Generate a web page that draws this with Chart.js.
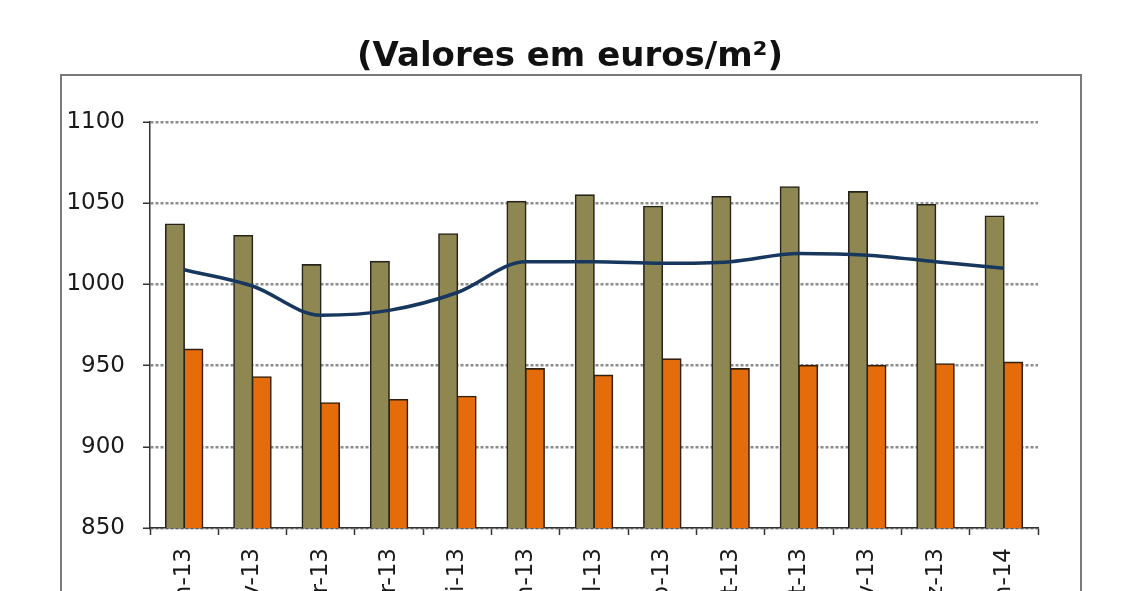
<!DOCTYPE html>
<html>
<head>
<meta charset="utf-8">
<script src="https://cdn.jsdelivr.net/npm/chart.js@4/dist/chart.umd.min.js"></script>
<style>
  html, body { margin: 0; padding: 0; background: #ffffff; overflow: hidden; width: 1128px; height: 591px; }
  #wrap { position: absolute; left: 0; top: 0; width: 1128px; height: 660px; }
</style>
</head>
<body>
<div id="wrap"><canvas id="c" width="1128" height="660"></canvas></div>
<script>
const categories = ["Jan-13","Fev-13","Mar-13","Abr-13","Mai-13","Jun-13","Jul-13","Ago-13","Set-13","Out-13","Nov-13","Dez-13","Jan-14"];
const seriesOlive  = [1037, 1030, 1012, 1014, 1031, 1051, 1055, 1048, 1054, 1060, 1057, 1049, 1042];
const seriesOrange = [960, 943, 927, 929, 931, 948, 944, 954, 948, 950, 950, 951, 952];
const seriesLine   = [1009, 999, 981, 984, 995, 1014, 1014, 1013, 1014, 1019, 1018, 1014, 1010];
const yTicks = [850, 900, 950, 1000, 1050, 1100];
const titleText = "(Valores em euros/m\u00B2)";

const frame = {
  id: 'frame',
  beforeDraw(chart) {
    const ctx = chart.ctx;
    ctx.save();
    ctx.fillStyle = '#ffffff';
    ctx.fillRect(0, 0, chart.width, chart.height);
    ctx.strokeStyle = '#7a7a7a';
    ctx.lineWidth = 2;
    ctx.strokeRect(61, 75, 1020, 700);
    ctx.fillStyle = '#111111';
    ctx.font = 'bold 34px "DejaVu Sans"';
    ctx.textAlign = 'center';
    ctx.textBaseline = 'alphabetic';
    ctx.fillText(titleText, 570, 66);
    ctx.restore();
  }
};

new Chart(document.getElementById('c'), {
  data: {
    labels: categories,
    datasets: [
      { type: 'line', data: seriesLine, borderColor: '#17375e', borderWidth: 3.5, pointRadius: 0, cubicInterpolationMode: 'monotone', fill: false, order: 0 },
      { type: 'bar', data: seriesOlive, backgroundColor: '#8f8752', borderColor: '#26241a', borderWidth: 1.6, inflateAmount: 0.8, order: 1 },
      { type: 'bar', data: seriesOrange, backgroundColor: '#e46c0a', borderColor: '#33200e', borderWidth: 1.6, inflateAmount: 0.8, order: 1 }
    ]
  },
  options: {
    responsive: false,
    animation: false,
    events: [],
    layout: { padding: { left: 0, top: 122, right: 90, bottom: 0 } },
    datasets: { bar: { categoryPercentage: 0.54, barPercentage: 1.0 } },
    plugins: { legend: { display: false }, tooltip: { enabled: false }, title: { display: false } },
    scales: {
      x: {
        offset: true,
        grid: { offset: true, drawOnChartArea: false, drawTicks: true, tickLength: 7, tickColor: '#333333', tickWidth: 1.5 },
        border: { display: true, color: '#333333', width: 1.5 },
        ticks: { minRotation: 90, maxRotation: 90, autoSkip: false, padding: 13, color: '#1a1a1a', font: { family: '"DejaVu Sans"', size: 23 } },
        afterFit(s) { s.height = 132; }
      },
      y: {
        min: 850, max: 1100,
        afterBuildTicks(s) { s.ticks = yTicks.map(v => ({ value: v })); },
        grid: { color: '#8c8c8c', lineWidth: 2.5, tickLength: 7, tickColor: '#333333', tickWidth: 1.5, tickBorderDash: [] },
        border: { display: true, color: '#333333', width: 1.5, dash: [3, 2] },
        ticks: { padding: 18, color: '#1a1a1a', font: { family: '"DejaVu Sans"', size: 23 }, callback: v => String(v) },
        afterFit(s) { s.width = 150; }
      }
    }
  },
  plugins: [frame]
});
</script>
</body>
</html>
